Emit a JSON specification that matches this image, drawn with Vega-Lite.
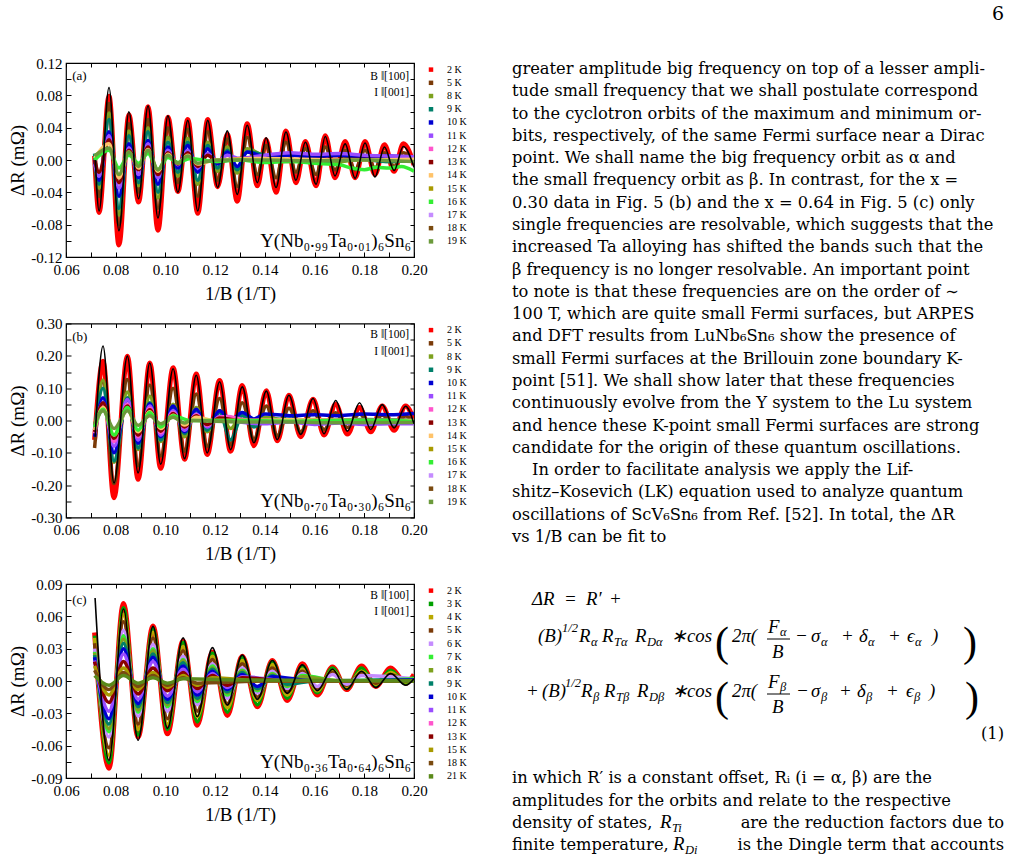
{
"$schema": "https://vega.github.io/schema/vega-lite/v6.json",
"background": "white",
"padding": {"left": 8, "top": 5, "right": 0, "bottom": 0},
"title": {"text": "6", "anchor": "end", "fontSize": 19, "font": "DejaVu Serif", "fontWeight": "normal", "offset": 31, "dx": -6, "color": "black"},
"datasets": {
"a": [
{"t":"2 K","x":0.0715,"y":0.005},{"t":"2 K","x":0.0733,"y":-0.065},{"t":"2 K","x":0.0773,"y":0.079},{"t":"2 K","x":0.0813,"y":-0.105},{"t":"2 K","x":0.0853,"y":0.056},{"t":"2 K","x":0.0892,"y":-0.052},{"t":"2 K","x":0.093,"y":0.066},{"t":"2 K","x":0.097,"y":-0.087},{"t":"2 K","x":0.101,"y":0.053},{"t":"2 K","x":0.105,"y":-0.039},{"t":"2 K","x":0.109,"y":0.05},{"t":"2 K","x":0.113,"y":-0.066},{"t":"2 K","x":0.117,"y":0.05},{"t":"2 K","x":0.121,"y":-0.033},{"t":"2 K","x":0.1249,"y":0.032},{"t":"2 K","x":0.1289,"y":-0.051},{"t":"2 K","x":0.1329,"y":0.045},{"t":"2 K","x":0.137,"y":-0.032},{"t":"2 K","x":0.1405,"y":0.025},{"t":"2 K","x":0.1445,"y":-0.04},{"t":"2 K","x":0.1485,"y":0.036},{"t":"2 K","x":0.1525,"y":-0.028},{"t":"2 K","x":0.1563,"y":0.023},{"t":"2 K","x":0.1606,"y":-0.032},{"t":"2 K","x":0.1643,"y":0.03},{"t":"2 K","x":0.1682,"y":-0.022},{"t":"2 K","x":0.1723,"y":0.023},{"t":"2 K","x":0.1763,"y":-0.022},{"t":"2 K","x":0.1803,"y":0.023},{"t":"2 K","x":0.1843,"y":-0.018},{"t":"2 K","x":0.1881,"y":0.019},{"t":"2 K","x":0.192,"y":-0.014},{"t":"2 K","x":0.1957,"y":0.02},{"t":"2 K","x":0.2,"y":-0.006},
{"t":"5 K","x":0.0715,"y":-0.005},{"t":"5 K","x":0.0733,"y":-0.045},{"t":"5 K","x":0.0773,"y":0.07},{"t":"5 K","x":0.0813,"y":-0.08},{"t":"5 K","x":0.0853,"y":0.045},{"t":"5 K","x":0.0892,"y":-0.04},{"t":"5 K","x":0.093,"y":0.05},{"t":"5 K","x":0.097,"y":-0.06},{"t":"5 K","x":0.101,"y":0.04},{"t":"5 K","x":0.105,"y":-0.028},{"t":"5 K","x":0.109,"y":0.038},{"t":"5 K","x":0.113,"y":-0.045},{"t":"5 K","x":0.117,"y":0.035},{"t":"5 K","x":0.121,"y":-0.025},{"t":"5 K","x":0.1249,"y":0.026},{"t":"5 K","x":0.1289,"y":-0.033},{"t":"5 K","x":0.1329,"y":0.028},{"t":"5 K","x":0.137,"y":-0.018},{"t":"5 K","x":0.1405,"y":0.018},{"t":"5 K","x":0.1445,"y":-0.022},{"t":"5 K","x":0.1485,"y":0.022},{"t":"5 K","x":0.1525,"y":-0.015},{"t":"5 K","x":0.1563,"y":0.014},{"t":"5 K","x":0.1606,"y":-0.018},{"t":"5 K","x":0.1643,"y":0.016},{"t":"5 K","x":0.1682,"y":-0.012},{"t":"5 K","x":0.1723,"y":0.012},{"t":"5 K","x":0.1763,"y":-0.012},{"t":"5 K","x":0.1803,"y":0.012},{"t":"5 K","x":0.1843,"y":-0.01},{"t":"5 K","x":0.1881,"y":0.009},{"t":"5 K","x":0.192,"y":-0.008},{"t":"5 K","x":0.1957,"y":0.009},{"t":"5 K","x":0.2,"y":-0.004},
{"t":"8 K","x":0.0715,"y":0.006},{"t":"8 K","x":0.0733,"y":-0.035},{"t":"8 K","x":0.0773,"y":0.058},{"t":"8 K","x":0.0813,"y":-0.068},{"t":"8 K","x":0.0853,"y":0.036},{"t":"8 K","x":0.0892,"y":-0.032},{"t":"8 K","x":0.093,"y":0.04},{"t":"8 K","x":0.097,"y":-0.047},{"t":"8 K","x":0.101,"y":0.028},{"t":"8 K","x":0.105,"y":-0.02},{"t":"8 K","x":0.109,"y":0.027},{"t":"8 K","x":0.113,"y":-0.03},{"t":"8 K","x":0.117,"y":0.022},{"t":"8 K","x":0.121,"y":-0.014},{"t":"8 K","x":0.1249,"y":0.016},{"t":"8 K","x":0.1289,"y":-0.016},{"t":"8 K","x":0.1329,"y":0.014},{"t":"8 K","x":0.14,"y":0.004},{"t":"8 K","x":0.15,"y":-0.002},{"t":"8 K","x":0.16,"y":0.003},{"t":"8 K","x":0.17,"y":-0.002},{"t":"8 K","x":0.18,"y":0.002},{"t":"8 K","x":0.19,"y":-0.002},{"t":"8 K","x":0.2,"y":0},
{"t":"9 K","x":0.0715,"y":0.008},{"t":"9 K","x":0.0733,"y":-0.03},{"t":"9 K","x":0.0773,"y":0.05},{"t":"9 K","x":0.0813,"y":-0.06},{"t":"9 K","x":0.0853,"y":0.03},{"t":"9 K","x":0.0892,"y":-0.028},{"t":"9 K","x":0.093,"y":0.035},{"t":"9 K","x":0.097,"y":-0.04},{"t":"9 K","x":0.101,"y":0.022},{"t":"9 K","x":0.105,"y":-0.015},{"t":"9 K","x":0.109,"y":0.022},{"t":"9 K","x":0.113,"y":-0.025},{"t":"9 K","x":0.117,"y":0.018},{"t":"9 K","x":0.121,"y":-0.01},{"t":"9 K","x":0.1249,"y":0.012},{"t":"9 K","x":0.1289,"y":-0.012},{"t":"9 K","x":0.1329,"y":0.01},{"t":"9 K","x":0.145,"y":0.002},{"t":"9 K","x":0.16,"y":-0.003},{"t":"9 K","x":0.175,"y":0.002},{"t":"9 K","x":0.19,"y":-0.002},{"t":"9 K","x":0.2,"y":0},
{"t":"10 K","x":0.0715,"y":0},{"t":"10 K","x":0.0733,"y":-0.025},{"t":"10 K","x":0.0773,"y":0.035},{"t":"10 K","x":0.0813,"y":-0.045},{"t":"10 K","x":0.0853,"y":0.02},{"t":"10 K","x":0.0892,"y":-0.022},{"t":"10 K","x":0.093,"y":0.024},{"t":"10 K","x":0.097,"y":-0.03},{"t":"10 K","x":0.101,"y":0.016},{"t":"10 K","x":0.105,"y":-0.01},{"t":"10 K","x":0.109,"y":0.018},{"t":"10 K","x":0.113,"y":-0.015},{"t":"10 K","x":0.117,"y":0.014},{"t":"10 K","x":0.121,"y":-0.005},{"t":"10 K","x":0.1249,"y":0.01},{"t":"10 K","x":0.1289,"y":-0.008},{"t":"10 K","x":0.1329,"y":0.01},{"t":"10 K","x":0.14,"y":0.004},{"t":"10 K","x":0.15,"y":0.006},{"t":"10 K","x":0.16,"y":0.004},{"t":"10 K","x":0.17,"y":0.006},{"t":"10 K","x":0.18,"y":0.004},{"t":"10 K","x":0.19,"y":0.005},{"t":"10 K","x":0.2,"y":0.003},
{"t":"11 K","x":0.0715,"y":-0.005},{"t":"11 K","x":0.0733,"y":-0.02},{"t":"11 K","x":0.0773,"y":0.03},{"t":"11 K","x":0.0813,"y":-0.035},{"t":"11 K","x":0.0853,"y":0.015},{"t":"11 K","x":0.0892,"y":-0.018},{"t":"11 K","x":0.093,"y":0.02},{"t":"11 K","x":0.097,"y":-0.022},{"t":"11 K","x":0.101,"y":0.012},{"t":"11 K","x":0.105,"y":-0.006},{"t":"11 K","x":0.109,"y":0.012},{"t":"11 K","x":0.113,"y":-0.01},{"t":"11 K","x":0.117,"y":0.008},{"t":"11 K","x":0.121,"y":-0.002},{"t":"11 K","x":0.1249,"y":0.006},{"t":"11 K","x":0.13,"y":0.002},{"t":"11 K","x":0.14,"y":0.006},{"t":"11 K","x":0.15,"y":0.009},{"t":"11 K","x":0.16,"y":0.007},{"t":"11 K","x":0.17,"y":0.008},{"t":"11 K","x":0.18,"y":0.006},{"t":"11 K","x":0.19,"y":0.005},{"t":"11 K","x":0.2,"y":0.004},
{"t":"13 K","x":0.0715,"y":0},{"t":"13 K","x":0.0733,"y":-0.015},{"t":"13 K","x":0.0773,"y":0.025},{"t":"13 K","x":0.0813,"y":-0.028},{"t":"13 K","x":0.0853,"y":0.012},{"t":"13 K","x":0.0892,"y":-0.012},{"t":"13 K","x":0.093,"y":0.016},{"t":"13 K","x":0.097,"y":-0.018},{"t":"13 K","x":0.101,"y":0.009},{"t":"13 K","x":0.105,"y":-0.005},{"t":"13 K","x":0.109,"y":0.009},{"t":"13 K","x":0.113,"y":-0.008},{"t":"13 K","x":0.117,"y":0.006},{"t":"13 K","x":0.121,"y":-0.002},{"t":"13 K","x":0.13,"y":0.002},{"t":"13 K","x":0.15,"y":0},{"t":"13 K","x":0.17,"y":0.001},{"t":"13 K","x":0.2,"y":0},
{"t":"14 K","x":0.0715,"y":0.002},{"t":"14 K","x":0.0773,"y":0.02},{"t":"14 K","x":0.0813,"y":-0.022},{"t":"14 K","x":0.0853,"y":0.01},{"t":"14 K","x":0.0892,"y":-0.01},{"t":"14 K","x":0.093,"y":0.013},{"t":"14 K","x":0.097,"y":-0.014},{"t":"14 K","x":0.101,"y":0.007},{"t":"14 K","x":0.105,"y":-0.004},{"t":"14 K","x":0.109,"y":0.006},{"t":"14 K","x":0.113,"y":-0.005},{"t":"14 K","x":0.12,"y":0},{"t":"14 K","x":0.14,"y":0.002},{"t":"14 K","x":0.17,"y":0},{"t":"14 K","x":0.2,"y":0.001},
{"t":"16 K","x":0.0715,"y":0},{"t":"16 K","x":0.0773,"y":0.012},{"t":"16 K","x":0.0813,"y":-0.01},{"t":"16 K","x":0.0853,"y":0.006},{"t":"16 K","x":0.0892,"y":-0.004},{"t":"16 K","x":0.093,"y":0.008},{"t":"16 K","x":0.097,"y":-0.012},{"t":"16 K","x":0.101,"y":0.003},{"t":"16 K","x":0.105,"y":-0.003},{"t":"16 K","x":0.11,"y":0.002},{"t":"16 K","x":0.12,"y":-0.002},{"t":"16 K","x":0.13,"y":0},{"t":"16 K","x":0.14,"y":-0.003},{"t":"16 K","x":0.15,"y":-0.002},{"t":"16 K","x":0.16,"y":-0.004},{"t":"16 K","x":0.17,"y":-0.006},{"t":"16 K","x":0.175,"y":-0.01},{"t":"16 K","x":0.18,"y":-0.012},{"t":"16 K","x":0.185,"y":-0.009},{"t":"16 K","x":0.19,"y":-0.01},{"t":"16 K","x":0.195,"y":-0.008},{"t":"16 K","x":0.2,"y":-0.014},
{"t":"19 K","x":0.0715,"y":0.005},{"t":"19 K","x":0.0773,"y":0.015},{"t":"19 K","x":0.0813,"y":-0.018},{"t":"19 K","x":0.0853,"y":0.01},{"t":"19 K","x":0.0892,"y":-0.008},{"t":"19 K","x":0.093,"y":0.012},{"t":"19 K","x":0.097,"y":-0.012},{"t":"19 K","x":0.101,"y":0.006},{"t":"19 K","x":0.105,"y":-0.004},{"t":"19 K","x":0.109,"y":0.005},{"t":"19 K","x":0.113,"y":-0.004},{"t":"19 K","x":0.12,"y":0},{"t":"19 K","x":0.14,"y":0},{"t":"19 K","x":0.16,"y":-0.001},{"t":"19 K","x":0.18,"y":0},{"t":"19 K","x":0.2,"y":-0.002},
{"t":"fit","x":0.0718,"y":0},{"t":"fit","x":0.0733,"y":-0.063},{"t":"fit","x":0.0773,"y":0.0896},{"t":"fit","x":0.0813,"y":-0.0875},{"t":"fit","x":0.0853,"y":0.0596},{"t":"fit","x":0.0892,"y":-0.048},{"t":"fit","x":0.093,"y":0.067},{"t":"fit","x":0.097,"y":-0.0717},{"t":"fit","x":0.101,"y":0.0546},{"t":"fit","x":0.105,"y":-0.04},{"t":"fit","x":0.109,"y":0.049},{"t":"fit","x":0.113,"y":-0.063},{"t":"fit","x":0.117,"y":0.049},{"t":"fit","x":0.121,"y":-0.034},{"t":"fit","x":0.1249,"y":0.036},{"t":"fit","x":0.1289,"y":-0.0425},{"t":"fit","x":0.1329,"y":0.043},{"t":"fit","x":0.137,"y":-0.028},{"t":"fit","x":0.1405,"y":0.0275},{"t":"fit","x":0.1445,"y":-0.034},{"t":"fit","x":0.1485,"y":0.0346},{"t":"fit","x":0.1525,"y":-0.025},{"t":"fit","x":0.1563,"y":0.022},{"t":"fit","x":0.1606,"y":-0.03},{"t":"fit","x":0.1643,"y":0.029},{"t":"fit","x":0.1682,"y":-0.0196},{"t":"fit","x":0.1723,"y":0.02},{"t":"fit","x":0.1763,"y":-0.0225},{"t":"fit","x":0.1803,"y":0.021},{"t":"fit","x":0.1843,"y":-0.021},{"t":"fit","x":0.1881,"y":0.016},{"t":"fit","x":0.192,"y":-0.013},{"t":"fit","x":0.1957,"y":0.0167},{"t":"fit","x":0.2,"y":-0.009}
],
"b": [
{"t":"2 K","x":0.0715,"y":-0.06},{"t":"2 K","x":0.0749,"y":0.183},{"t":"2 K","x":0.0793,"y":-0.239},{"t":"2 K","x":0.0847,"y":0.199},{"t":"2 K","x":0.089,"y":-0.182},{"t":"2 K","x":0.0937,"y":0.178},{"t":"2 K","x":0.0981,"y":-0.148},{"t":"2 K","x":0.1031,"y":0.163},{"t":"2 K","x":0.1077,"y":-0.12},{"t":"2 K","x":0.1124,"y":0.144},{"t":"2 K","x":0.1168,"y":-0.105},{"t":"2 K","x":0.1218,"y":0.124},{"t":"2 K","x":0.1262,"y":-0.095},{"t":"2 K","x":0.1309,"y":0.108},{"t":"2 K","x":0.1356,"y":-0.078},{"t":"2 K","x":0.1406,"y":0.092},{"t":"2 K","x":0.145,"y":-0.063},{"t":"2 K","x":0.1497,"y":0.078},{"t":"2 K","x":0.1544,"y":-0.05},{"t":"2 K","x":0.1594,"y":0.066},{"t":"2 K","x":0.1638,"y":-0.045},{"t":"2 K","x":0.1685,"y":0.05},{"t":"2 K","x":0.1732,"y":-0.042},{"t":"2 K","x":0.1781,"y":0.04},{"t":"2 K","x":0.1826,"y":-0.035},{"t":"2 K","x":0.1872,"y":0.045},{"t":"2 K","x":0.192,"y":-0.03},{"t":"2 K","x":0.1966,"y":0.045},{"t":"2 K","x":0.2,"y":0},
{"t":"5 K","x":0.0715,"y":-0.085},{"t":"5 K","x":0.0749,"y":0.12},{"t":"5 K","x":0.0793,"y":-0.195},{"t":"5 K","x":0.0847,"y":0.127},{"t":"5 K","x":0.089,"y":-0.14},{"t":"5 K","x":0.0937,"y":0.11},{"t":"5 K","x":0.0981,"y":-0.11},{"t":"5 K","x":0.1031,"y":0.1},{"t":"5 K","x":0.1077,"y":-0.095},{"t":"5 K","x":0.1124,"y":0.082},{"t":"5 K","x":0.1168,"y":-0.08},{"t":"5 K","x":0.1218,"y":0.068},{"t":"5 K","x":0.1262,"y":-0.075},{"t":"5 K","x":0.1309,"y":0.055},{"t":"5 K","x":0.1356,"y":-0.058},{"t":"5 K","x":0.1406,"y":0.045},{"t":"5 K","x":0.145,"y":-0.047},{"t":"5 K","x":0.1497,"y":0.038},{"t":"5 K","x":0.1544,"y":-0.035},{"t":"5 K","x":0.1594,"y":0.03},{"t":"5 K","x":0.1638,"y":-0.028},{"t":"5 K","x":0.1685,"y":0.024},{"t":"5 K","x":0.1732,"y":-0.022},{"t":"5 K","x":0.1781,"y":0.02},{"t":"5 K","x":0.1826,"y":-0.018},{"t":"5 K","x":0.1872,"y":0.016},{"t":"5 K","x":0.192,"y":-0.015},{"t":"5 K","x":0.1966,"y":0.014},{"t":"5 K","x":0.2,"y":-0.006},
{"t":"8 K","x":0.0715,"y":-0.04},{"t":"8 K","x":0.0749,"y":0.125},{"t":"8 K","x":0.0793,"y":-0.13},{"t":"8 K","x":0.0847,"y":0.088},{"t":"8 K","x":0.089,"y":-0.09},{"t":"8 K","x":0.0937,"y":0.075},{"t":"8 K","x":0.0981,"y":-0.065},{"t":"8 K","x":0.1031,"y":0.05},{"t":"8 K","x":0.1077,"y":-0.05},{"t":"8 K","x":0.1124,"y":0.04},{"t":"8 K","x":0.1168,"y":-0.035},{"t":"8 K","x":0.1218,"y":0.03},{"t":"8 K","x":0.1262,"y":-0.025},{"t":"8 K","x":0.1309,"y":0.02},{"t":"8 K","x":0.1356,"y":-0.015},{"t":"8 K","x":0.14,"y":0.01},{"t":"8 K","x":0.15,"y":0},{"t":"8 K","x":0.16,"y":0.003},{"t":"8 K","x":0.17,"y":-0.002},{"t":"8 K","x":0.18,"y":0.002},{"t":"8 K","x":0.19,"y":0},{"t":"8 K","x":0.2,"y":0},
{"t":"9 K","x":0.0715,"y":-0.03},{"t":"9 K","x":0.0749,"y":0.1},{"t":"9 K","x":0.0793,"y":-0.125},{"t":"9 K","x":0.0847,"y":0.07},{"t":"9 K","x":0.089,"y":-0.085},{"t":"9 K","x":0.0937,"y":0.055},{"t":"9 K","x":0.0981,"y":-0.06},{"t":"9 K","x":0.1031,"y":0.04},{"t":"9 K","x":0.1077,"y":-0.04},{"t":"9 K","x":0.1124,"y":0.03},{"t":"9 K","x":0.1168,"y":-0.03},{"t":"9 K","x":0.1218,"y":0.025},{"t":"9 K","x":0.1262,"y":-0.06},{"t":"9 K","x":0.1309,"y":0.015},{"t":"9 K","x":0.1356,"y":-0.02},{"t":"9 K","x":0.14,"y":0},{"t":"9 K","x":0.15,"y":0.005},{"t":"9 K","x":0.16,"y":0},{"t":"9 K","x":0.18,"y":0.003},{"t":"9 K","x":0.2,"y":0},
{"t":"10 K","x":0.0715,"y":-0.05},{"t":"10 K","x":0.0749,"y":0.07},{"t":"10 K","x":0.0793,"y":-0.1},{"t":"10 K","x":0.0847,"y":0.065},{"t":"10 K","x":0.089,"y":-0.07},{"t":"10 K","x":0.0937,"y":0.052},{"t":"10 K","x":0.0981,"y":-0.05},{"t":"10 K","x":0.1031,"y":0.045},{"t":"10 K","x":0.1077,"y":-0.035},{"t":"10 K","x":0.1124,"y":0.035},{"t":"10 K","x":0.1168,"y":-0.02},{"t":"10 K","x":0.1218,"y":0.03},{"t":"10 K","x":0.1262,"y":0},{"t":"10 K","x":0.1309,"y":0.025},{"t":"10 K","x":0.1356,"y":0.005},{"t":"10 K","x":0.14,"y":0.02},{"t":"10 K","x":0.15,"y":0.015},{"t":"10 K","x":0.16,"y":0.018},{"t":"10 K","x":0.17,"y":0.015},{"t":"10 K","x":0.18,"y":0.02},{"t":"10 K","x":0.19,"y":0.018},{"t":"10 K","x":0.2,"y":0.022},
{"t":"11 K","x":0.0715,"y":-0.03},{"t":"11 K","x":0.0749,"y":0.055},{"t":"11 K","x":0.0793,"y":-0.08},{"t":"11 K","x":0.0847,"y":0.065},{"t":"11 K","x":0.089,"y":-0.06},{"t":"11 K","x":0.0937,"y":0.045},{"t":"11 K","x":0.0981,"y":-0.045},{"t":"11 K","x":0.1031,"y":0.03},{"t":"11 K","x":0.1077,"y":-0.03},{"t":"11 K","x":0.1124,"y":0.02},{"t":"11 K","x":0.1168,"y":-0.02},{"t":"11 K","x":0.1218,"y":0.012},{"t":"11 K","x":0.13,"y":-0.005},{"t":"11 K","x":0.14,"y":-0.01},{"t":"11 K","x":0.15,"y":-0.005},{"t":"11 K","x":0.16,"y":-0.012},{"t":"11 K","x":0.17,"y":-0.008},{"t":"11 K","x":0.18,"y":-0.012},{"t":"11 K","x":0.19,"y":-0.01},{"t":"11 K","x":0.2,"y":-0.01},
{"t":"12 K","x":0.0715,"y":-0.04},{"t":"12 K","x":0.0749,"y":0.045},{"t":"12 K","x":0.0793,"y":-0.065},{"t":"12 K","x":0.0847,"y":0.05},{"t":"12 K","x":0.089,"y":-0.05},{"t":"12 K","x":0.0937,"y":0.038},{"t":"12 K","x":0.0981,"y":-0.038},{"t":"12 K","x":0.1031,"y":0.025},{"t":"12 K","x":0.1077,"y":-0.022},{"t":"12 K","x":0.1124,"y":0.018},{"t":"12 K","x":0.1168,"y":-0.015},{"t":"12 K","x":0.1218,"y":0.01},{"t":"12 K","x":0.125,"y":0.012},{"t":"12 K","x":0.13,"y":0.005},{"t":"12 K","x":0.14,"y":-0.003},{"t":"12 K","x":0.16,"y":0},{"t":"12 K","x":0.18,"y":-0.002},{"t":"12 K","x":0.2,"y":0},
{"t":"13 K","x":0.0715,"y":-0.035},{"t":"13 K","x":0.0749,"y":0.055},{"t":"13 K","x":0.0793,"y":-0.055},{"t":"13 K","x":0.0847,"y":0.045},{"t":"13 K","x":0.089,"y":-0.045},{"t":"13 K","x":0.0937,"y":0.033},{"t":"13 K","x":0.0981,"y":-0.033},{"t":"13 K","x":0.1031,"y":0.022},{"t":"13 K","x":0.1077,"y":-0.02},{"t":"13 K","x":0.1124,"y":0.015},{"t":"13 K","x":0.1168,"y":-0.012},{"t":"13 K","x":0.1218,"y":0.008},{"t":"13 K","x":0.13,"y":0},{"t":"13 K","x":0.15,"y":0},{"t":"13 K","x":0.2,"y":0},
{"t":"14 K","x":0.0715,"y":-0.03},{"t":"14 K","x":0.0749,"y":0.04},{"t":"14 K","x":0.0793,"y":-0.045},{"t":"14 K","x":0.0847,"y":0.035},{"t":"14 K","x":0.089,"y":-0.035},{"t":"14 K","x":0.0937,"y":0.027},{"t":"14 K","x":0.0981,"y":-0.025},{"t":"14 K","x":0.1031,"y":0.016},{"t":"14 K","x":0.1077,"y":-0.014},{"t":"14 K","x":0.1124,"y":0.01},{"t":"14 K","x":0.12,"y":0},{"t":"14 K","x":0.15,"y":0.002},{"t":"14 K","x":0.2,"y":0},
{"t":"16 K","x":0.0715,"y":-0.02},{"t":"16 K","x":0.0749,"y":0.035},{"t":"16 K","x":0.0793,"y":-0.045},{"t":"16 K","x":0.0847,"y":0.04},{"t":"16 K","x":0.089,"y":-0.03},{"t":"16 K","x":0.0937,"y":0.025},{"t":"16 K","x":0.0981,"y":-0.02},{"t":"16 K","x":0.1031,"y":0.015},{"t":"16 K","x":0.11,"y":0},{"t":"16 K","x":0.13,"y":0},{"t":"16 K","x":0.15,"y":-0.002},{"t":"16 K","x":0.17,"y":0},{"t":"16 K","x":0.19,"y":0},{"t":"16 K","x":0.2,"y":-0.003},
{"t":"19 K","x":0.0715,"y":-0.01},{"t":"19 K","x":0.0749,"y":0.03},{"t":"19 K","x":0.0793,"y":-0.025},{"t":"19 K","x":0.0847,"y":0.03},{"t":"19 K","x":0.089,"y":-0.015},{"t":"19 K","x":0.0937,"y":0.015},{"t":"19 K","x":0.0981,"y":-0.01},{"t":"19 K","x":0.1031,"y":0.01},{"t":"19 K","x":0.1077,"y":-0.008},{"t":"19 K","x":0.11,"y":0},{"t":"19 K","x":0.13,"y":-0.005},{"t":"19 K","x":0.15,"y":-0.005},{"t":"19 K","x":0.17,"y":-0.007},{"t":"19 K","x":0.19,"y":-0.006},{"t":"19 K","x":0.2,"y":-0.006},
{"t":"fit","x":0.0717,"y":-0.05},{"t":"fit","x":0.0749,"y":0.23},{"t":"fit","x":0.0793,"y":-0.193},{"t":"fit","x":0.0847,"y":0.199},{"t":"fit","x":0.089,"y":-0.162},{"t":"fit","x":0.0937,"y":0.178},{"t":"fit","x":0.0981,"y":-0.135},{"t":"fit","x":0.1031,"y":0.16},{"t":"fit","x":0.1077,"y":-0.118},{"t":"fit","x":0.1124,"y":0.14},{"t":"fit","x":0.1168,"y":-0.1},{"t":"fit","x":0.1218,"y":0.12},{"t":"fit","x":0.1262,"y":-0.09},{"t":"fit","x":0.1309,"y":0.104},{"t":"fit","x":0.1356,"y":-0.069},{"t":"fit","x":0.1406,"y":0.091},{"t":"fit","x":0.145,"y":-0.059},{"t":"fit","x":0.1497,"y":0.078},{"t":"fit","x":0.1544,"y":-0.043},{"t":"fit","x":0.1594,"y":0.068},{"t":"fit","x":0.1638,"y":-0.041},{"t":"fit","x":0.1685,"y":0.062},{"t":"fit","x":0.1732,"y":-0.033},{"t":"fit","x":0.1781,"y":0.055},{"t":"fit","x":0.1826,"y":-0.028},{"t":"fit","x":0.1872,"y":0.049},{"t":"fit","x":0.192,"y":-0.023},{"t":"fit","x":0.1966,"y":0.044},{"t":"fit","x":0.2,"y":-0.01}
],
"c": [
{"t":"2 K","x":0.0715,"y":0.045},{"t":"2 K","x":0.0773,"y":-0.081},{"t":"2 K","x":0.0831,"y":0.072},{"t":"2 K","x":0.089,"y":-0.052},{"t":"2 K","x":0.095,"y":0.051},{"t":"2 K","x":0.1008,"y":-0.049},{"t":"2 K","x":0.1071,"y":0.037},{"t":"2 K","x":0.1128,"y":-0.041},{"t":"2 K","x":0.1189,"y":0.027},{"t":"2 K","x":0.1249,"y":-0.032},{"t":"2 K","x":0.1309,"y":0.023},{"t":"2 K","x":0.137,"y":-0.024},{"t":"2 K","x":0.143,"y":0.019},{"t":"2 K","x":0.149,"y":-0.018},{"t":"2 K","x":0.1551,"y":0.016},{"t":"2 K","x":0.1611,"y":-0.013},{"t":"2 K","x":0.1672,"y":0.013},{"t":"2 K","x":0.1729,"y":-0.008},{"t":"2 K","x":0.1789,"y":0.014},{"t":"2 K","x":0.1846,"y":-0.005},{"t":"2 K","x":0.1906,"y":0.012},{"t":"2 K","x":0.1967,"y":-0.002},{"t":"2 K","x":0.2,"y":0.006},
{"t":"3 K","x":0.0715,"y":0.042},{"t":"3 K","x":0.0773,"y":-0.076},{"t":"3 K","x":0.0831,"y":0.068},{"t":"3 K","x":0.089,"y":-0.05},{"t":"3 K","x":0.095,"y":0.049},{"t":"3 K","x":0.1008,"y":-0.045},{"t":"3 K","x":0.1071,"y":0.036},{"t":"3 K","x":0.1128,"y":-0.038},{"t":"3 K","x":0.1189,"y":0.026},{"t":"3 K","x":0.1249,"y":-0.029},{"t":"3 K","x":0.1309,"y":0.022},{"t":"3 K","x":0.137,"y":-0.022},{"t":"3 K","x":0.143,"y":0.018},{"t":"3 K","x":0.149,"y":-0.016},{"t":"3 K","x":0.1551,"y":0.014},{"t":"3 K","x":0.1611,"y":-0.011},{"t":"3 K","x":0.1672,"y":0.012},{"t":"3 K","x":0.1729,"y":-0.007},{"t":"3 K","x":0.1789,"y":0.012},{"t":"3 K","x":0.1846,"y":-0.004},{"t":"3 K","x":0.1906,"y":0.01},{"t":"3 K","x":0.1967,"y":-0.002},{"t":"3 K","x":0.2,"y":0.004},
{"t":"4 K","x":0.0715,"y":0.04},{"t":"4 K","x":0.0773,"y":-0.069},{"t":"4 K","x":0.0831,"y":0.062},{"t":"4 K","x":0.089,"y":-0.045},{"t":"4 K","x":0.095,"y":0.045},{"t":"4 K","x":0.1008,"y":-0.04},{"t":"4 K","x":0.1071,"y":0.032},{"t":"4 K","x":0.1128,"y":-0.033},{"t":"4 K","x":0.1189,"y":0.023},{"t":"4 K","x":0.1249,"y":-0.025},{"t":"4 K","x":0.1309,"y":0.019},{"t":"4 K","x":0.137,"y":-0.018},{"t":"4 K","x":0.143,"y":0.015},{"t":"4 K","x":0.149,"y":-0.013},{"t":"4 K","x":0.1551,"y":0.011},{"t":"4 K","x":0.1611,"y":-0.009},{"t":"4 K","x":0.1672,"y":0.01},{"t":"4 K","x":0.1729,"y":-0.005},{"t":"4 K","x":0.1789,"y":0.009},{"t":"4 K","x":0.1846,"y":-0.003},{"t":"4 K","x":0.1906,"y":0.008},{"t":"4 K","x":0.1967,"y":-0.001},{"t":"4 K","x":0.2,"y":0.003},
{"t":"5 K","x":0.0715,"y":0.035},{"t":"5 K","x":0.0773,"y":-0.062},{"t":"5 K","x":0.0831,"y":0.055},{"t":"5 K","x":0.089,"y":-0.04},{"t":"5 K","x":0.095,"y":0.04},{"t":"5 K","x":0.1008,"y":-0.035},{"t":"5 K","x":0.1071,"y":0.028},{"t":"5 K","x":0.1128,"y":-0.028},{"t":"5 K","x":0.1189,"y":0.02},{"t":"5 K","x":0.1249,"y":-0.021},{"t":"5 K","x":0.1309,"y":0.016},{"t":"5 K","x":0.137,"y":-0.015},{"t":"5 K","x":0.143,"y":0.012},{"t":"5 K","x":0.149,"y":-0.01},{"t":"5 K","x":0.1551,"y":0.009},{"t":"5 K","x":0.1611,"y":-0.007},{"t":"5 K","x":0.1672,"y":0.008},{"t":"5 K","x":0.1729,"y":-0.004},{"t":"5 K","x":0.1789,"y":0.007},{"t":"5 K","x":0.1846,"y":-0.002},{"t":"5 K","x":0.1906,"y":0.006},{"t":"5 K","x":0.1967,"y":0},{"t":"5 K","x":0.2,"y":0.003},
{"t":"6 K","x":0.0715,"y":0.03},{"t":"6 K","x":0.0773,"y":-0.052},{"t":"6 K","x":0.0831,"y":0.047},{"t":"6 K","x":0.089,"y":-0.033},{"t":"6 K","x":0.095,"y":0.034},{"t":"6 K","x":0.1008,"y":-0.028},{"t":"6 K","x":0.1071,"y":0.023},{"t":"6 K","x":0.1128,"y":-0.022},{"t":"6 K","x":0.1189,"y":0.016},{"t":"6 K","x":0.1249,"y":-0.016},{"t":"6 K","x":0.1309,"y":0.012},{"t":"6 K","x":0.137,"y":-0.011},{"t":"6 K","x":0.143,"y":0.009},{"t":"6 K","x":0.149,"y":-0.007},{"t":"6 K","x":0.1551,"y":0.007},{"t":"6 K","x":0.1611,"y":-0.005},{"t":"6 K","x":0.1672,"y":0.006},{"t":"6 K","x":0.1729,"y":-0.003},{"t":"6 K","x":0.1789,"y":0.005},{"t":"6 K","x":0.2,"y":0.002},
{"t":"7 K","x":0.0715,"y":0.027},{"t":"7 K","x":0.0773,"y":-0.047},{"t":"7 K","x":0.0831,"y":0.042},{"t":"7 K","x":0.089,"y":-0.029},{"t":"7 K","x":0.095,"y":0.03},{"t":"7 K","x":0.1008,"y":-0.024},{"t":"7 K","x":0.1071,"y":0.02},{"t":"7 K","x":0.1128,"y":-0.019},{"t":"7 K","x":0.1189,"y":0.014},{"t":"7 K","x":0.1249,"y":-0.013},{"t":"7 K","x":0.1309,"y":0.01},{"t":"7 K","x":0.137,"y":-0.009},{"t":"7 K","x":0.143,"y":0.007},{"t":"7 K","x":0.149,"y":-0.005},{"t":"7 K","x":0.1551,"y":0.005},{"t":"7 K","x":0.17,"y":0},{"t":"7 K","x":0.2,"y":0.002},
{"t":"8 K","x":0.0715,"y":0.026},{"t":"8 K","x":0.0773,"y":-0.044},{"t":"8 K","x":0.0831,"y":0.039},{"t":"8 K","x":0.089,"y":-0.027},{"t":"8 K","x":0.095,"y":0.028},{"t":"8 K","x":0.1008,"y":-0.022},{"t":"8 K","x":0.1071,"y":0.019},{"t":"8 K","x":0.1128,"y":-0.017},{"t":"8 K","x":0.1189,"y":0.012},{"t":"8 K","x":0.1249,"y":-0.011},{"t":"8 K","x":0.1309,"y":0.009},{"t":"8 K","x":0.137,"y":-0.008},{"t":"8 K","x":0.143,"y":0.006},{"t":"8 K","x":0.149,"y":-0.004},{"t":"8 K","x":0.1551,"y":0.004},{"t":"8 K","x":0.17,"y":0},{"t":"8 K","x":0.2,"y":0.001},
{"t":"9 K","x":0.0715,"y":0.024},{"t":"9 K","x":0.0773,"y":-0.04},{"t":"9 K","x":0.0831,"y":0.035},{"t":"9 K","x":0.089,"y":-0.024},{"t":"9 K","x":0.095,"y":0.025},{"t":"9 K","x":0.1008,"y":-0.02},{"t":"9 K","x":0.1071,"y":0.017},{"t":"9 K","x":0.1128,"y":-0.016},{"t":"9 K","x":0.1189,"y":0.011},{"t":"9 K","x":0.1249,"y":-0.01},{"t":"9 K","x":0.1309,"y":0.008},{"t":"9 K","x":0.137,"y":-0.007},{"t":"9 K","x":0.143,"y":0.005},{"t":"9 K","x":0.149,"y":-0.003},{"t":"9 K","x":0.16,"y":0},{"t":"9 K","x":0.2,"y":0.001},
{"t":"10 K","x":0.0715,"y":0.022},{"t":"10 K","x":0.0773,"y":-0.035},{"t":"10 K","x":0.0831,"y":0.03},{"t":"10 K","x":0.089,"y":-0.021},{"t":"10 K","x":0.095,"y":0.022},{"t":"10 K","x":0.1008,"y":-0.017},{"t":"10 K","x":0.1071,"y":0.014},{"t":"10 K","x":0.1128,"y":-0.013},{"t":"10 K","x":0.1189,"y":0.009},{"t":"10 K","x":0.1249,"y":-0.008},{"t":"10 K","x":0.1309,"y":0.006},{"t":"10 K","x":0.137,"y":-0.005},{"t":"10 K","x":0.143,"y":0.004},{"t":"10 K","x":0.16,"y":0},{"t":"10 K","x":0.2,"y":0.001},
{"t":"11 K","x":0.0715,"y":0.019},{"t":"11 K","x":0.0773,"y":-0.028},{"t":"11 K","x":0.0831,"y":0.025},{"t":"11 K","x":0.089,"y":-0.017},{"t":"11 K","x":0.095,"y":0.018},{"t":"11 K","x":0.1008,"y":-0.014},{"t":"11 K","x":0.1071,"y":0.011},{"t":"11 K","x":0.1128,"y":-0.01},{"t":"11 K","x":0.1189,"y":0.007},{"t":"11 K","x":0.1249,"y":-0.006},{"t":"11 K","x":0.1309,"y":0.004},{"t":"11 K","x":0.15,"y":0},{"t":"11 K","x":0.2,"y":0},
{"t":"13 K","x":0.0715,"y":0.018},{"t":"13 K","x":0.0773,"y":-0.02},{"t":"13 K","x":0.0831,"y":0.018},{"t":"13 K","x":0.089,"y":-0.012},{"t":"13 K","x":0.095,"y":0.012},{"t":"13 K","x":0.1008,"y":-0.009},{"t":"13 K","x":0.1071,"y":0.008},{"t":"13 K","x":0.1128,"y":-0.007},{"t":"13 K","x":0.1189,"y":0.005},{"t":"13 K","x":0.1249,"y":-0.004},{"t":"13 K","x":0.1309,"y":0.003},{"t":"13 K","x":0.15,"y":0},{"t":"13 K","x":0.2,"y":0},
{"t":"15 K","x":0.0715,"y":0.014},{"t":"15 K","x":0.0773,"y":-0.013},{"t":"15 K","x":0.0831,"y":0.012},{"t":"15 K","x":0.089,"y":-0.008},{"t":"15 K","x":0.095,"y":0.008},{"t":"15 K","x":0.1008,"y":-0.006},{"t":"15 K","x":0.1071,"y":0.005},{"t":"15 K","x":0.1128,"y":-0.004},{"t":"15 K","x":0.1189,"y":0.003},{"t":"15 K","x":0.14,"y":0},{"t":"15 K","x":0.2,"y":0},
{"t":"18 K","x":0.0715,"y":0.01},{"t":"18 K","x":0.0773,"y":-0.008},{"t":"18 K","x":0.0831,"y":0.008},{"t":"18 K","x":0.089,"y":-0.005},{"t":"18 K","x":0.095,"y":0.005},{"t":"18 K","x":0.1008,"y":-0.004},{"t":"18 K","x":0.1071,"y":0.003},{"t":"18 K","x":0.1128,"y":-0.002},{"t":"18 K","x":0.14,"y":0},{"t":"18 K","x":0.2,"y":0},
{"t":"21 K","x":0.0715,"y":0.005},{"t":"21 K","x":0.0773,"y":-0.004},{"t":"21 K","x":0.0831,"y":0.005},{"t":"21 K","x":0.089,"y":-0.002},{"t":"21 K","x":0.095,"y":0.003},{"t":"21 K","x":0.1008,"y":-0.002},{"t":"21 K","x":0.1071,"y":0.002},{"t":"21 K","x":0.13,"y":0.001},{"t":"21 K","x":0.2,"y":0},
{"t":"fit","x":0.0717,"y":0.077},{"t":"fit","x":0.0773,"y":-0.0737},{"t":"fit","x":0.0831,"y":0.0668},{"t":"fit","x":0.089,"y":-0.055},{"t":"fit","x":0.095,"y":0.0507},{"t":"fit","x":0.1008,"y":-0.044},{"t":"fit","x":0.1071,"y":0.04},{"t":"fit","x":0.1128,"y":-0.033},{"t":"fit","x":0.1189,"y":0.031},{"t":"fit","x":0.1249,"y":-0.0224},{"t":"fit","x":0.1309,"y":0.024},{"t":"fit","x":0.137,"y":-0.017},{"t":"fit","x":0.143,"y":0.019},{"t":"fit","x":0.149,"y":-0.0115},{"t":"fit","x":0.1551,"y":0.015},{"t":"fit","x":0.1611,"y":-0.009},{"t":"fit","x":0.1672,"y":0.011},{"t":"fit","x":0.1729,"y":-0.0078},{"t":"fit","x":0.1789,"y":0.009},{"t":"fit","x":0.1846,"y":-0.006},{"t":"fit","x":0.1906,"y":0.007},{"t":"fit","x":0.1967,"y":-0.004},{"t":"fit","x":0.2,"y":0.002}
],
"legab": [{"t":"2 K"},{"t":"5 K"},{"t":"8 K"},{"t":"9 K"},{"t":"10 K"},{"t":"11 K"},{"t":"12 K"},{"t":"13 K"},{"t":"14 K"},{"t":"15 K"},{"t":"16 K"},{"t":"17 K"},{"t":"18 K"},{"t":"19 K"}],
"legc": [{"t":"2 K"},{"t":"3 K"},{"t":"4 K"},{"t":"5 K"},{"t":"6 K"},{"t":"7 K"},{"t":"8 K"},{"t":"9 K"},{"t":"10 K"},{"t":"11 K"},{"t":"12 K"},{"t":"13 K"},{"t":"15 K"},{"t":"18 K"},{"t":"21 K"}]
},
"hconcat": [
{
"vconcat": [
{"hconcat": [
{
"width": 348, "height": 194,
"data": {"name": "a"},
"resolve": {"axis": {"x": "independent", "y": "independent"}},
"layer": [
{"transform": [{"filter": "datum.t == '2 K'"}],
 "mark": {"type": "line", "interpolate": "monotone", "strokeWidth": 5, "clip": true},
 "encoding": {
  "x": {"field": "x", "type": "quantitative", "scale": {"domain": [0.06, 0.2], "nice": false, "zero": false}, "axis": {"orient": "bottom", "values": [0.06,0.07,0.08,0.09,0.1,0.11,0.12,0.13,0.14,0.15,0.16,0.17,0.18,0.19,0.2], "labelExpr": "round(datum.value*100) % 2 == 0 ? format(datum.value, '.2f') : ''", "labelFlush": false, "labelOverlap": false, "tickSize": -5, "labelPadding": 10, "title": "1/B (1/T)", "titlePadding": 7, "domain": false, "grid": false}},
  "y": {"field": "y", "type": "quantitative", "scale": {"domain": [-0.12, 0.12], "nice": false, "zero": false}, "axis": {"orient": "left", "values": [-0.12,-0.1,-0.08,-0.06,-0.04,-0.02,0,0.02,0.04,0.06,0.08,0.1,0.12], "labelExpr": "round(datum.value*100) % 4 == 0 ? replace(format(datum.value, '.2f'), '−', '-') : ''", "labelFlush": false, "labelOverlap": false, "tickSize": -5, "labelPadding": 9, "title": "ΔR (mΩ)", "titlePadding": 3, "domain": false, "grid": false}},
  "color": {"field": "t", "type": "nominal", "scale": {"domain": ["2 K","5 K","8 K","9 K","10 K","11 K","12 K","13 K","14 K","15 K","16 K","17 K","18 K","19 K"], "range": ["#ff0000","#7a3a08","#7da11e","#00806a","#0000d0","#9a4dff","#ff55cc","#8b0000","#ffc36a","#a89a00","#33ee33","#c58cff","#7a4a10","#6b9a3b"]}, "legend": null}
 }},
{"transform": [{"filter": "datum.t != '2 K' && datum.t != 'fit'"}],
 "mark": {"type": "line", "interpolate": "monotone", "strokeWidth": 3.5, "clip": true},
 "encoding": {
  "x": {"field": "x", "type": "quantitative", "scale": {"domain": [0.06, 0.2], "nice": false, "zero": false}, "axis": null},
  "y": {"field": "y", "type": "quantitative", "scale": {"domain": [-0.12, 0.12], "nice": false, "zero": false}, "axis": null},
  "color": {"field": "t", "type": "nominal", "scale": {"domain": ["2 K","5 K","8 K","9 K","10 K","11 K","12 K","13 K","14 K","15 K","16 K","17 K","18 K","19 K"], "range": ["#ff0000","#7a3a08","#7da11e","#00806a","#0000d0","#9a4dff","#ff55cc","#8b0000","#ffc36a","#a89a00","#33ee33","#c58cff","#7a4a10","#6b9a3b"]}, "legend": null}
 }},
{"transform": [{"filter": "datum.t == 'fit'"}],
 "mark": {"type": "line", "interpolate": "monotone", "strokeWidth": 1.6, "color": "black", "clip": true},
 "encoding": {
  "x": {"field": "x", "type": "quantitative", "scale": {"domain": [0.06, 0.2], "nice": false, "zero": false}, "axis": {"orient": "top", "values": [0.06,0.07,0.08,0.09,0.1,0.11,0.12,0.13,0.14,0.15,0.16,0.17,0.18,0.19,0.2], "labels": false, "tickSize": -4, "title": null, "domain": false, "grid": false}},
  "y": {"field": "y", "type": "quantitative", "scale": {"domain": [-0.12, 0.12], "nice": false, "zero": false}, "axis": {"orient": "right", "values": [-0.12,-0.1,-0.08,-0.06,-0.04,-0.02,0,0.02,0.04,0.06,0.08,0.1,0.12], "labels": false, "tickSize": -4, "title": null, "domain": false, "grid": false}}
 }},
{"data": {"values": [{"x": 0.0625, "y": 0.104, "s": "(a)"}]},
 "mark": {"type": "text", "align": "left", "baseline": "middle", "fontSize": 13, "font": "Liberation Serif", "color": "black"},
 "encoding": {"x": {"field": "x", "type": "quantitative", "scale": {"domain": [0.06, 0.2], "nice": false, "zero": false}, "axis": null}, "y": {"field": "y", "type": "quantitative", "scale": {"domain": [-0.12, 0.12], "nice": false, "zero": false}, "axis": null}, "text": {"field": "s"}}},
{"data": {"values": [{"x": 0.198, "y": 0.1027, "s": "B ‖[100]"}, {"x": 0.198, "y": 0.083, "s": "I ‖[001]"}]},
 "mark": {"type": "text", "align": "right", "baseline": "middle", "fontSize": 11.5, "font": "Liberation Serif", "color": "black"},
 "encoding": {"x": {"field": "x", "type": "quantitative", "scale": {"domain": [0.06, 0.2], "nice": false, "zero": false}, "axis": null}, "y": {"field": "y", "type": "quantitative", "scale": {"domain": [-0.12, 0.12], "nice": false, "zero": false}, "axis": null}, "text": {"field": "s"}}},
{"data": {"values": [{"x": 0.1988, "y": -0.1077, "s": "Y(Nb₀.₉₉Ta₀.₀₁)₆Sn₆"}]},
 "mark": {"type": "text", "align": "right", "baseline": "alphabetic", "fontSize": 19, "font": "Liberation Serif", "color": "black"},
 "encoding": {"x": {"field": "x", "type": "quantitative", "scale": {"domain": [0.06, 0.2], "nice": false, "zero": false}, "axis": null}, "y": {"field": "y", "type": "quantitative", "scale": {"domain": [-0.12, 0.12], "nice": false, "zero": false}, "axis": null}, "text": {"field": "s"}}}
]
},
{
"width": 44, "height": 185,
"view": {"stroke": null},
"data": {"name": "legab"},
"encoding": {"y": {"field": "t", "type": "nominal", "scale": {"domain": ["2 K","5 K","8 K","9 K","10 K","11 K","12 K","13 K","14 K","15 K","16 K","17 K","18 K","19 K"]}, "axis": null}},
"layer": [
{"mark": {"type": "square", "size": 20, "opacity": 1},
 "encoding": {"x": {"datum": 0, "type": "quantitative", "scale": {"domain": [0, 11]}, "axis": null},
  "color": {"field": "t", "type": "nominal", "scale": {"domain": ["2 K","5 K","8 K","9 K","10 K","11 K","12 K","13 K","14 K","15 K","16 K","17 K","18 K","19 K"], "range": ["#ff0000","#7a3a08","#7da11e","#00806a","#0000d0","#9a4dff","#ff55cc","#8b0000","#ffc36a","#a89a00","#33ee33","#c58cff","#7a4a10","#6b9a3b"]}, "legend": null}}},
{"mark": {"type": "text", "align": "left", "baseline": "middle", "fontSize": 10, "font": "Liberation Serif", "color": "black"},
 "encoding": {"x": {"datum": 4, "type": "quantitative", "scale": {"domain": [0, 11]}, "axis": null}, "text": {"field": "t"}}}
]
}
], "spacing": 0},
{"hconcat": [
{
"width": 348, "height": 194,
"data": {"name": "b"},
"resolve": {"axis": {"x": "independent", "y": "independent"}},
"layer": [
{"transform": [{"filter": "datum.t == '2 K'"}],
 "mark": {"type": "line", "interpolate": "monotone", "strokeWidth": 5, "clip": true},
 "encoding": {
  "x": {"field": "x", "type": "quantitative", "scale": {"domain": [0.06, 0.2], "nice": false, "zero": false}, "axis": {"orient": "bottom", "values": [0.06,0.07,0.08,0.09,0.1,0.11,0.12,0.13,0.14,0.15,0.16,0.17,0.18,0.19,0.2], "labelExpr": "round(datum.value*100) % 2 == 0 ? format(datum.value, '.2f') : ''", "labelFlush": false, "labelOverlap": false, "tickSize": -5, "labelPadding": 10, "title": "1/B (1/T)", "titlePadding": 7, "domain": false, "grid": false}},
  "y": {"field": "y", "type": "quantitative", "scale": {"domain": [-0.3, 0.3], "nice": false, "zero": false}, "axis": {"orient": "left", "values": [-0.3,-0.25,-0.2,-0.15,-0.1,-0.05,0,0.05,0.1,0.15,0.2,0.25,0.3], "labelExpr": "round(datum.value*100) % 10 == 0 ? replace(format(datum.value, '.2f'), '−', '-') : ''", "labelFlush": false, "labelOverlap": false, "tickSize": -5, "labelPadding": 9, "title": "ΔR (mΩ)", "titlePadding": 3, "domain": false, "grid": false}},
  "color": {"field": "t", "type": "nominal", "scale": {"domain": ["2 K","5 K","8 K","9 K","10 K","11 K","12 K","13 K","14 K","15 K","16 K","17 K","18 K","19 K"], "range": ["#ff0000","#7a3a08","#7da11e","#00806a","#0000d0","#9a4dff","#ff55cc","#8b0000","#ffc36a","#a89a00","#33ee33","#c58cff","#7a4a10","#6b9a3b"]}, "legend": null}
 }},
{"transform": [{"filter": "datum.t != '2 K' && datum.t != 'fit'"}],
 "mark": {"type": "line", "interpolate": "monotone", "strokeWidth": 3.5, "clip": true},
 "encoding": {
  "x": {"field": "x", "type": "quantitative", "scale": {"domain": [0.06, 0.2], "nice": false, "zero": false}, "axis": null},
  "y": {"field": "y", "type": "quantitative", "scale": {"domain": [-0.3, 0.3], "nice": false, "zero": false}, "axis": null},
  "color": {"field": "t", "type": "nominal", "scale": {"domain": ["2 K","5 K","8 K","9 K","10 K","11 K","12 K","13 K","14 K","15 K","16 K","17 K","18 K","19 K"], "range": ["#ff0000","#7a3a08","#7da11e","#00806a","#0000d0","#9a4dff","#ff55cc","#8b0000","#ffc36a","#a89a00","#33ee33","#c58cff","#7a4a10","#6b9a3b"]}, "legend": null}
 }},
{"transform": [{"filter": "datum.t == 'fit'"}],
 "mark": {"type": "line", "interpolate": "monotone", "strokeWidth": 1.6, "color": "black", "clip": true},
 "encoding": {
  "x": {"field": "x", "type": "quantitative", "scale": {"domain": [0.06, 0.2], "nice": false, "zero": false}, "axis": {"orient": "top", "values": [0.06,0.07,0.08,0.09,0.1,0.11,0.12,0.13,0.14,0.15,0.16,0.17,0.18,0.19,0.2], "labels": false, "tickSize": -4, "title": null, "domain": false, "grid": false}},
  "y": {"field": "y", "type": "quantitative", "scale": {"domain": [-0.3, 0.3], "nice": false, "zero": false}, "axis": {"orient": "right", "values": [-0.3,-0.25,-0.2,-0.15,-0.1,-0.05,0,0.05,0.1,0.15,0.2,0.25,0.3], "labels": false, "tickSize": -4, "title": null, "domain": false, "grid": false}}
 }},
{"data": {"values": [{"x": 0.0625, "y": 0.257, "s": "(b)"}]},
 "mark": {"type": "text", "align": "left", "baseline": "middle", "fontSize": 13, "font": "Liberation Serif", "color": "black"},
 "encoding": {"x": {"field": "x", "type": "quantitative", "scale": {"domain": [0.06, 0.2], "nice": false, "zero": false}, "axis": null}, "y": {"field": "y", "type": "quantitative", "scale": {"domain": [-0.3, 0.3], "nice": false, "zero": false}, "axis": null}, "text": {"field": "s"}}},
{"data": {"values": [{"x": 0.198, "y": 0.263, "s": "B ‖[100]"}, {"x": 0.198, "y": 0.213, "s": "I ‖[001]"}]},
 "mark": {"type": "text", "align": "right", "baseline": "middle", "fontSize": 11.5, "font": "Liberation Serif", "color": "black"},
 "encoding": {"x": {"field": "x", "type": "quantitative", "scale": {"domain": [0.06, 0.2], "nice": false, "zero": false}, "axis": null}, "y": {"field": "y", "type": "quantitative", "scale": {"domain": [-0.3, 0.3], "nice": false, "zero": false}, "axis": null}, "text": {"field": "s"}}},
{"data": {"values": [{"x": 0.1988, "y": -0.269, "s": "Y(Nb₀.₇₀Ta₀.₃₀)₆Sn₆"}]},
 "mark": {"type": "text", "align": "right", "baseline": "alphabetic", "fontSize": 19, "font": "Liberation Serif", "color": "black"},
 "encoding": {"x": {"field": "x", "type": "quantitative", "scale": {"domain": [0.06, 0.2], "nice": false, "zero": false}, "axis": null}, "y": {"field": "y", "type": "quantitative", "scale": {"domain": [-0.3, 0.3], "nice": false, "zero": false}, "axis": null}, "text": {"field": "s"}}}
]
},
{
"width": 44, "height": 185,
"view": {"stroke": null},
"data": {"name": "legab"},
"encoding": {"y": {"field": "t", "type": "nominal", "scale": {"domain": ["2 K","5 K","8 K","9 K","10 K","11 K","12 K","13 K","14 K","15 K","16 K","17 K","18 K","19 K"]}, "axis": null}},
"layer": [
{"mark": {"type": "square", "size": 20, "opacity": 1},
 "encoding": {"x": {"datum": 0, "type": "quantitative", "scale": {"domain": [0, 11]}, "axis": null},
  "color": {"field": "t", "type": "nominal", "scale": {"domain": ["2 K","5 K","8 K","9 K","10 K","11 K","12 K","13 K","14 K","15 K","16 K","17 K","18 K","19 K"], "range": ["#ff0000","#7a3a08","#7da11e","#00806a","#0000d0","#9a4dff","#ff55cc","#8b0000","#ffc36a","#a89a00","#33ee33","#c58cff","#7a4a10","#6b9a3b"]}, "legend": null}}},
{"mark": {"type": "text", "align": "left", "baseline": "middle", "fontSize": 10, "font": "Liberation Serif", "color": "black"},
 "encoding": {"x": {"datum": 4, "type": "quantitative", "scale": {"domain": [0, 11]}, "axis": null}, "text": {"field": "t"}}}
]
}
], "spacing": 0},
{"hconcat": [
{
"width": 348, "height": 194,
"data": {"name": "c"},
"resolve": {"axis": {"x": "independent", "y": "independent"}},
"layer": [
{"transform": [{"filter": "datum.t == '2 K'"}],
 "mark": {"type": "line", "interpolate": "monotone", "strokeWidth": 5, "clip": true},
 "encoding": {
  "x": {"field": "x", "type": "quantitative", "scale": {"domain": [0.06, 0.2], "nice": false, "zero": false}, "axis": {"orient": "bottom", "values": [0.06,0.07,0.08,0.09,0.1,0.11,0.12,0.13,0.14,0.15,0.16,0.17,0.18,0.19,0.2], "labelExpr": "round(datum.value*100) % 2 == 0 ? format(datum.value, '.2f') : ''", "labelFlush": false, "labelOverlap": false, "tickSize": -5, "labelPadding": 10, "title": "1/B (1/T)", "titlePadding": 7, "domain": false, "grid": false}},
  "y": {"field": "y", "type": "quantitative", "scale": {"domain": [-0.09, 0.09], "nice": false, "zero": false}, "axis": {"orient": "left", "values": [-0.09,-0.075,-0.06,-0.045,-0.03,-0.015,0,0.015,0.03,0.045,0.06,0.075,0.09], "labelExpr": "round(datum.value*1000) % 30 == 0 ? replace(format(datum.value, '.2f'), '−', '-') : ''", "labelFlush": false, "labelOverlap": false, "tickSize": -5, "labelPadding": 9, "title": "ΔR (mΩ)", "titlePadding": 3, "domain": false, "grid": false}},
  "color": {"field": "t", "type": "nominal", "scale": {"domain": ["2 K","3 K","4 K","5 K","6 K","7 K","8 K","9 K","10 K","11 K","12 K","13 K","15 K","18 K","21 K"], "range": ["#ff0000","#00a000","#b8a800","#7a3a08","#c58cff","#33ee33","#7da11e","#00806a","#0000d0","#9a4dff","#ff55cc","#8b0000","#a89a00","#7a4a10","#5a8a1a"]}, "legend": null}
 }},
{"transform": [{"filter": "datum.t != '2 K' && datum.t != 'fit'"}],
 "mark": {"type": "line", "interpolate": "monotone", "strokeWidth": 3.5, "clip": true},
 "encoding": {
  "x": {"field": "x", "type": "quantitative", "scale": {"domain": [0.06, 0.2], "nice": false, "zero": false}, "axis": null},
  "y": {"field": "y", "type": "quantitative", "scale": {"domain": [-0.09, 0.09], "nice": false, "zero": false}, "axis": null},
  "color": {"field": "t", "type": "nominal", "scale": {"domain": ["2 K","3 K","4 K","5 K","6 K","7 K","8 K","9 K","10 K","11 K","12 K","13 K","15 K","18 K","21 K"], "range": ["#ff0000","#00a000","#b8a800","#7a3a08","#c58cff","#33ee33","#7da11e","#00806a","#0000d0","#9a4dff","#ff55cc","#8b0000","#a89a00","#7a4a10","#5a8a1a"]}, "legend": null}
 }},
{"transform": [{"filter": "datum.t == 'fit'"}],
 "mark": {"type": "line", "interpolate": "monotone", "strokeWidth": 1.6, "color": "black", "clip": true},
 "encoding": {
  "x": {"field": "x", "type": "quantitative", "scale": {"domain": [0.06, 0.2], "nice": false, "zero": false}, "axis": {"orient": "top", "values": [0.06,0.07,0.08,0.09,0.1,0.11,0.12,0.13,0.14,0.15,0.16,0.17,0.18,0.19,0.2], "labels": false, "tickSize": -4, "title": null, "domain": false, "grid": false}},
  "y": {"field": "y", "type": "quantitative", "scale": {"domain": [-0.09, 0.09], "nice": false, "zero": false}, "axis": {"orient": "right", "values": [-0.09,-0.075,-0.06,-0.045,-0.03,-0.015,0,0.015,0.03,0.045,0.06,0.075,0.09], "labels": false, "tickSize": -4, "title": null, "domain": false, "grid": false}}
 }},
{"data": {"values": [{"x": 0.0625, "y": 0.075, "s": "(c)"}]},
 "mark": {"type": "text", "align": "left", "baseline": "middle", "fontSize": 13, "font": "Liberation Serif", "color": "black"},
 "encoding": {"x": {"field": "x", "type": "quantitative", "scale": {"domain": [0.06, 0.2], "nice": false, "zero": false}, "axis": null}, "y": {"field": "y", "type": "quantitative", "scale": {"domain": [-0.09, 0.09], "nice": false, "zero": false}, "axis": null}, "text": {"field": "s"}}},
{"data": {"values": [{"x": 0.198, "y": 0.079, "s": "B ‖[100]"}, {"x": 0.198, "y": 0.064, "s": "I ‖[001]"}]},
 "mark": {"type": "text", "align": "right", "baseline": "middle", "fontSize": 11.5, "font": "Liberation Serif", "color": "black"},
 "encoding": {"x": {"field": "x", "type": "quantitative", "scale": {"domain": [0.06, 0.2], "nice": false, "zero": false}, "axis": null}, "y": {"field": "y", "type": "quantitative", "scale": {"domain": [-0.09, 0.09], "nice": false, "zero": false}, "axis": null}, "text": {"field": "s"}}},
{"data": {"values": [{"x": 0.1988, "y": -0.081, "s": "Y(Nb₀.₃₆Ta₀.₆₄)₆Sn₆"}]},
 "mark": {"type": "text", "align": "right", "baseline": "alphabetic", "fontSize": 19, "font": "Liberation Serif", "color": "black"},
 "encoding": {"x": {"field": "x", "type": "quantitative", "scale": {"domain": [0.06, 0.2], "nice": false, "zero": false}, "axis": null}, "y": {"field": "y", "type": "quantitative", "scale": {"domain": [-0.09, 0.09], "nice": false, "zero": false}, "axis": null}, "text": {"field": "s"}}}
]
},
{
"width": 44, "height": 199,
"view": {"stroke": null},
"data": {"name": "legc"},
"encoding": {"y": {"field": "t", "type": "nominal", "scale": {"domain": ["2 K","3 K","4 K","5 K","6 K","7 K","8 K","9 K","10 K","11 K","12 K","13 K","15 K","18 K","21 K"]}, "axis": null}},
"layer": [
{"mark": {"type": "square", "size": 20, "opacity": 1},
 "encoding": {"x": {"datum": 0, "type": "quantitative", "scale": {"domain": [0, 11]}, "axis": null},
  "color": {"field": "t", "type": "nominal", "scale": {"domain": ["2 K","3 K","4 K","5 K","6 K","7 K","8 K","9 K","10 K","11 K","12 K","13 K","15 K","18 K","21 K"], "range": ["#ff0000","#00a000","#b8a800","#7a3a08","#c58cff","#33ee33","#7da11e","#00806a","#0000d0","#9a4dff","#ff55cc","#8b0000","#a89a00","#7a4a10","#5a8a1a"]}, "legend": null}}},
{"mark": {"type": "text", "align": "left", "baseline": "middle", "fontSize": 10, "font": "Liberation Serif", "color": "black"},
 "encoding": {"x": {"datum": 4, "type": "quantitative", "scale": {"domain": [0, 11]}, "axis": null}, "text": {"field": "t"}}}
]
}
], "spacing": 0}
],
"spacing": 11.5,
"resolve": {"scale": {"color": "independent"}}
},
{
"width": 506, "height": 800,
"view": {"stroke": null},
"layer": [
{"data": {"values": [
{"x":513,"y":75,"s":"greater amplitude big frequency on top of a lesser ampli-"},
{"x":513,"y":97.3,"s":"tude small frequency that we shall postulate correspond"},
{"x":513,"y":119.6,"s":"to the cyclotron orbits of the maximum and minimum or-"},
{"x":513,"y":141.8,"s":"bits, respectively, of the same Fermi surface near a Dirac"},
{"x":513,"y":164.1,"s":"point.  We shall name the big frequency orbit as α and"},
{"x":513,"y":186.4,"s":"the small frequency orbit as β.  In contrast, for the x ="},
{"x":513,"y":208.7,"s":"0.30 data in Fig. 5 (b) and the x = 0.64 in Fig. 5 (c) only"},
{"x":513,"y":231,"s":"single frequencies are resolvable, which suggests that the"},
{"x":513,"y":253.2,"s":"increased Ta alloying has shifted the bands such that the"},
{"x":513,"y":275.5,"s":"β frequency is no longer resolvable.  An important point"},
{"x":513,"y":297.8,"s":"to note is that these frequencies are on the order of ∼"},
{"x":513,"y":320.1,"s":"100 T, which are quite small Fermi surfaces, but ARPES"},
{"x":513,"y":342.4,"s":"and DFT results from LuNb₆Sn₆ show the presence of"},
{"x":513,"y":364.6,"s":"small Fermi surfaces at the Brillouin zone boundary K-"},
{"x":513,"y":386.9,"s":"point [51]. We shall show later that these frequencies"},
{"x":513,"y":409.2,"s":"continuously evolve from the Y system to the Lu system"},
{"x":513,"y":431.5,"s":"and hence these K-point small Fermi surfaces are strong"},
{"x":513,"y":453.8,"s":"candidate for the origin of these quantum oscillations."},
{"x":533,"y":476,"s":"In order to facilitate analysis we apply the Lif-"},
{"x":513,"y":498.3,"s":"shitz–Kosevich (LK) equation used to analyze quantum"},
{"x":513,"y":520.6,"s":"oscillations of ScV₆Sn₆ from Ref. [52]. In total, the ΔR"},
{"x":513,"y":542.9,"s":"vs 1/B can be fit to"},
{"x":513,"y":784,"s":"in which R′ is a constant offset, Rᵢ (i = α, β) are the"},
{"x":513,"y":806.5,"s":"amplitudes for the orbits and relate to the respective"},
{"x":513,"y":829,"s":"density of states,"},
{"x":513,"y":851,"s":"finite temperature,"}
]},
 "mark": {"type": "text", "align": "left", "baseline": "alphabetic", "font": "DejaVu Serif", "fontSize": 16.3, "color": "black"},
 "encoding": {"x": {"field": "x", "type": "quantitative", "scale": {"domain": [505, 1011], "nice": false, "zero": false}, "axis": null}, "y": {"field": "y", "type": "quantitative", "scale": {"domain": [64, 864], "reverse": true, "nice": false, "zero": false}, "axis": null}, "text": {"field": "s"}}},
{"data": {"values": [
{"x":1005,"y":829,"s":"are the reduction factors due to"},
{"x":1005,"y":851,"s":"is the Dingle term that accounts"},
{"x":1005,"y":740,"s":"(1)"}
]},
 "mark": {"type": "text", "align": "right", "baseline": "alphabetic", "font": "DejaVu Serif", "fontSize": 16.3, "color": "black"},
 "encoding": {"x": {"field": "x", "type": "quantitative", "scale": {"domain": [505, 1011], "nice": false, "zero": false}, "axis": null}, "y": {"field": "y", "type": "quantitative", "scale": {"domain": [64, 864], "reverse": true, "nice": false, "zero": false}, "axis": null}, "text": {"field": "s"}}},
{"data": {"values": [
{"x":661,"y":829,"s":"R"},{"x":674,"y":851,"s":"R"},
{"x":533,"y":606,"s":"ΔR"},{"x":565,"y":606,"s":"="},{"x":587,"y":606,"s":"R′"},{"x":610,"y":606,"s":"+"},
{"x":539,"y":643,"s":"(B)"},{"x":580,"y":643,"s":"R"},{"x":603,"y":643,"s":"R"},{"x":636,"y":643,"s":"R"},{"x":672,"y":643,"s":"∗"},{"x":688,"y":643,"s":"cos"},{"x":733,"y":643,"s":"2π("},{"x":796,"y":643,"s":"−"},{"x":812,"y":643,"s":"σ"},{"x":842,"y":643,"s":"+"},{"x":860,"y":643,"s":"δ"},{"x":889,"y":643,"s":"+"},{"x":908,"y":643,"s":"ϵ"},{"x":933,"y":643,"s":")"},
{"x":769,"y":634,"s":"F"},{"x":773,"y":659,"s":"B"},
{"x":527,"y":698,"s":"+"},{"x":543,"y":698,"s":"(B)"},{"x":582,"y":698,"s":"R"},{"x":605,"y":698,"s":"R"},{"x":638,"y":698,"s":"R"},{"x":673,"y":698,"s":"∗"},{"x":688,"y":698,"s":"cos"},{"x":733,"y":698,"s":"2π("},{"x":797,"y":698,"s":"−"},{"x":812,"y":698,"s":"σ"},{"x":840,"y":698,"s":"+"},{"x":858,"y":698,"s":"δ"},{"x":887,"y":698,"s":"+"},{"x":907,"y":698,"s":"ϵ"},{"x":930,"y":698,"s":")"},
{"x":769,"y":689,"s":"F"},{"x":773,"y":714,"s":"B"}
]},
 "mark": {"type": "text", "align": "left", "baseline": "alphabetic", "font": "Liberation Serif", "fontSize": 18.8, "fontStyle": "italic", "color": "black"},
 "encoding": {"x": {"field": "x", "type": "quantitative", "scale": {"domain": [505, 1011], "nice": false, "zero": false}, "axis": null}, "y": {"field": "y", "type": "quantitative", "scale": {"domain": [64, 864], "reverse": true, "nice": false, "zero": false}, "axis": null}, "text": {"field": "s"}}},
{"data": {"values": [
{"x":673,"y":833,"s":"Ti"},{"x":686,"y":855,"s":"Di"},
{"x":563,"y":633,"s":"1/2"},{"x":592,"y":647,"s":"α"},{"x":615,"y":647,"s":"Tα"},{"x":648,"y":647,"s":"Dα"},{"x":822,"y":647,"s":"α"},{"x":869,"y":647,"s":"α"},{"x":916,"y":647,"s":"α"},{"x":781,"y":637,"s":"α"},
{"x":566,"y":688,"s":"1/2"},{"x":594,"y":702,"s":"β"},{"x":617,"y":702,"s":"Tβ"},{"x":650,"y":702,"s":"Dβ"},{"x":822,"y":702,"s":"β"},{"x":867,"y":702,"s":"β"},{"x":915,"y":702,"s":"β"},{"x":781,"y":692,"s":"β"}
]},
 "mark": {"type": "text", "align": "left", "baseline": "alphabetic", "font": "Liberation Serif", "fontSize": 12.5, "fontStyle": "italic", "color": "black"},
 "encoding": {"x": {"field": "x", "type": "quantitative", "scale": {"domain": [505, 1011], "nice": false, "zero": false}, "axis": null}, "y": {"field": "y", "type": "quantitative", "scale": {"domain": [64, 864], "reverse": true, "nice": false, "zero": false}, "axis": null}, "text": {"field": "s"}}},
{"data": {"values": [
{"x":716,"y":657,"s":"("},{"x":964,"y":657,"s":")"},{"x":716,"y":712,"s":"("},{"x":966,"y":712,"s":")"}
]},
 "mark": {"type": "text", "align": "left", "baseline": "alphabetic", "font": "Liberation Serif", "fontSize": 42, "color": "black"},
 "encoding": {"x": {"field": "x", "type": "quantitative", "scale": {"domain": [505, 1011], "nice": false, "zero": false}, "axis": null}, "y": {"field": "y", "type": "quantitative", "scale": {"domain": [64, 864], "reverse": true, "nice": false, "zero": false}, "axis": null}, "text": {"field": "s"}}},
{"data": {"values": [{"x":768,"x2":791,"y":640},{"x":768,"x2":791,"y":695}]},
 "mark": {"type": "rule", "color": "black", "strokeWidth": 1},
 "encoding": {"x": {"field": "x", "type": "quantitative", "scale": {"domain": [505, 1011], "nice": false, "zero": false}, "axis": null}, "x2": {"field": "x2"}, "y": {"field": "y", "type": "quantitative", "scale": {"domain": [64, 864], "reverse": true, "nice": false, "zero": false}, "axis": null}}}
]
}
],
"spacing": 29,
"config": {
 "font": "Liberation Serif",
 "view": {"stroke": "black", "strokeWidth": 1.2},
 "axis": {"labelFont": "Liberation Serif", "labelFontSize": 15, "labelColor": "black", "titleFont": "Liberation Serif", "titleFontSize": 19, "titleFontWeight": "normal", "titleColor": "black", "tickColor": "black", "tickWidth": 1}
}
}
